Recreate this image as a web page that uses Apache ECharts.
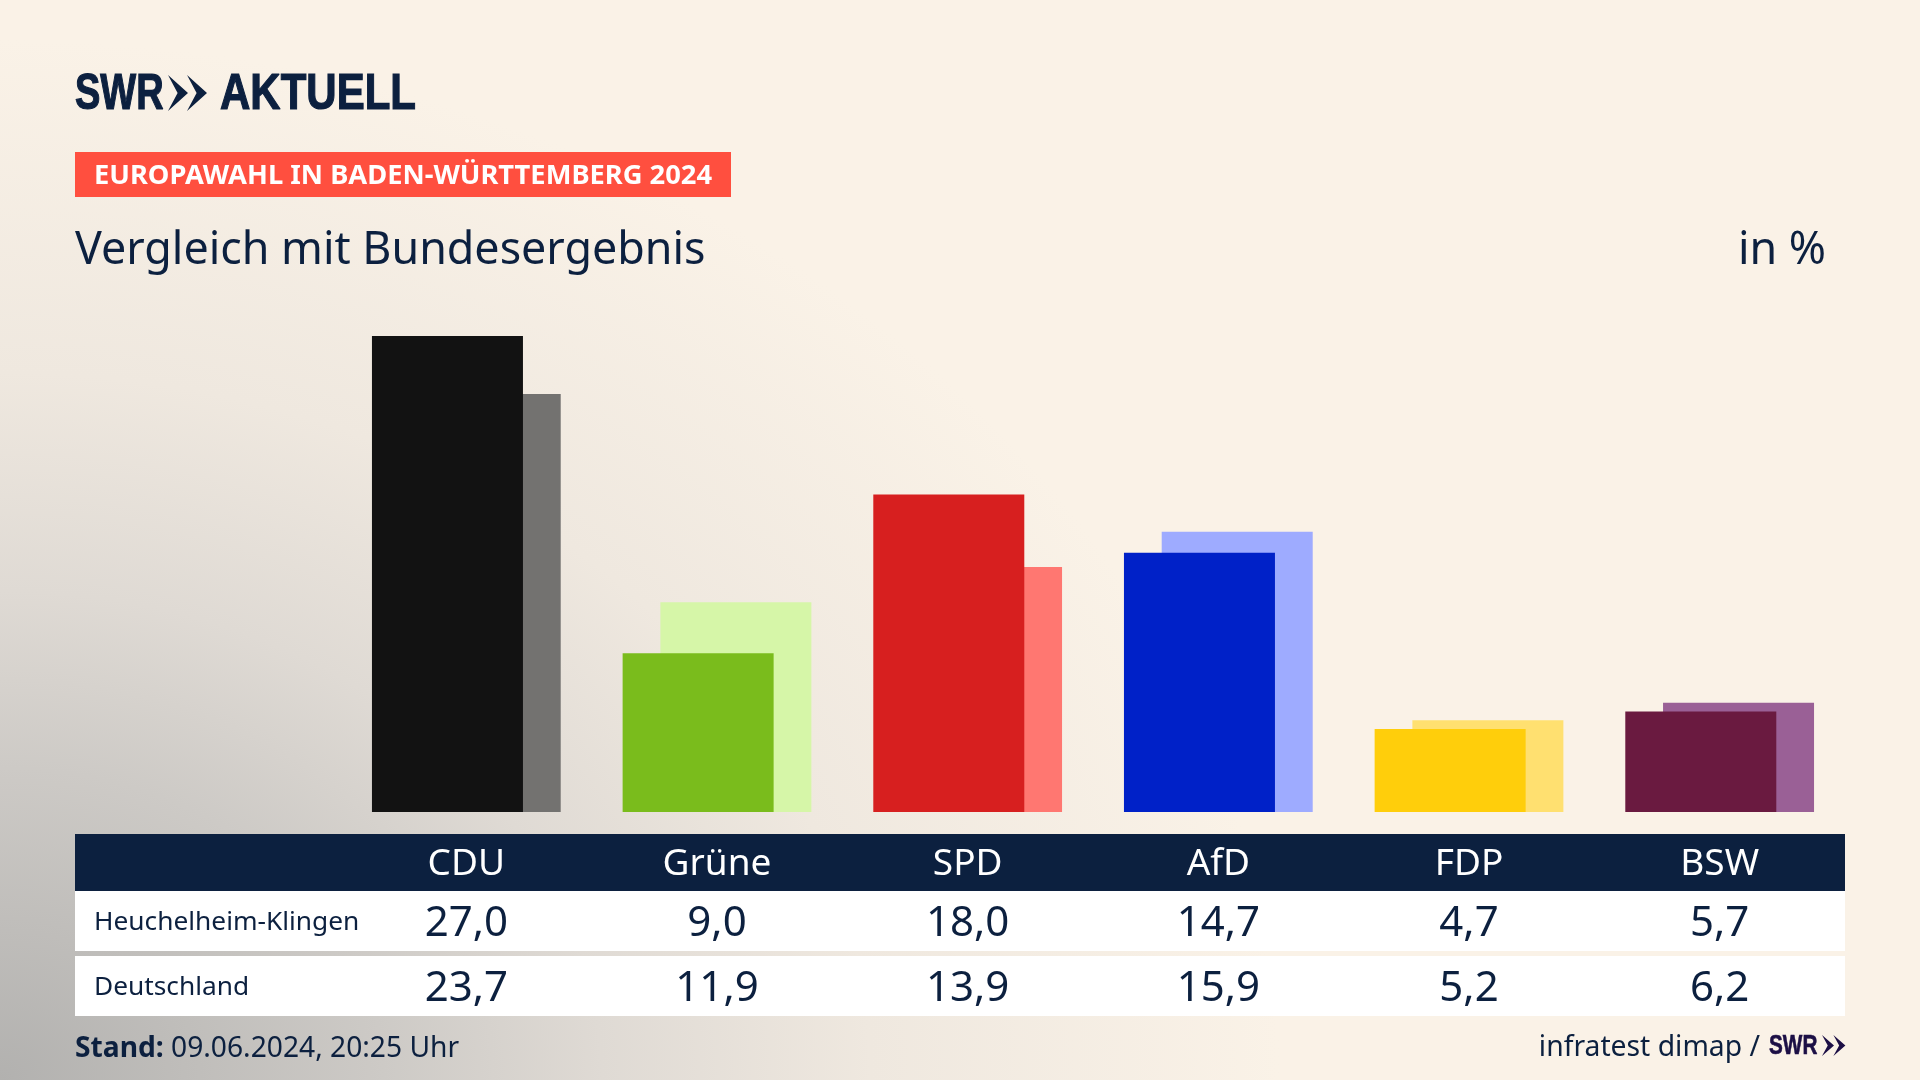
<!DOCTYPE html>
<html>
<head>
<meta charset="utf-8">
<title>Vergleich mit Bundesergebnis</title>
<script src="https://cdn.jsdelivr.net/npm/echarts@6/dist/echarts.min.js"></script>
<style>
html, body { margin: 0; padding: 0; }
body {
    width: 1920px; height: 1080px; overflow: hidden;
    background: radial-gradient(ellipse 1280px 1040px at 0 1080px, #b2b1af 0%, #cdcac6 30%, #dfdad4 47%, #efe8df 68%, #faf2e7 100%) #faf2e7;
}
#chart { width: 1920px; height: 1080px; }
</style>
</head>
<body>
<div id="chart"></div>
<script>
// Daten
var parties = ['CDU', 'Grüne', 'SPD', 'AfD', 'FDP', 'BSW'];
var heuchelheim = [27.0, 9.0, 18.0, 14.7, 4.7, 5.7];
var deutschland = [23.7, 11.9, 13.9, 15.9, 5.2, 6.2];
var rowNames = ['Heuchelheim-Klingen', 'Deutschland'];

// Farben
var darkColors = ['#121212', '#7abc1c', '#d71f1f', '#0021c8', '#ffce0b', '#6a1a40'];
var lightColors = ['#737270', '#d6f6a8', '#ff7771', '#9eabff', '#ffe070', '#9a6096'];
var navy = '#0c203f';
var font = '"Noto Sans", sans-serif';
var logoFont = '"Liberation Sans", sans-serif';

function comma(v) {
    return v.toFixed(1).replace('.', ',');
}

function barData(values, colors) {
    return values.map(function(v, i) {
        return { value: v, itemStyle: { color: colors[i] } };
    });
}

// weitere x-Achse als Tabellenzeile
function rowAxis(labels, dist, color, size) {
    return {
        type: 'category',
        position: 'bottom',
        data: labels,
        offset: dist,
        z: 10,
        axisLine: { show: false },
        axisTick: { show: false },
        axisLabel: {
            margin: 0,
            interval: 0,
            color: color,
            fontFamily: font,
            fontSize: size,
            verticalAlign: 'middle'
        }
    };
}

function label(text, x, y, size, color, extra) {
    var style = { text: text, x: x, y: y, fill: color, fontFamily: font, fontSize: size, textVerticalAlign: 'middle' };
    for (var k in extra) style[k] = extra[k];
    return { type: 'text', z: 5, style: style };
}

// Logoschrift, schmal gezogen
function logoText(text, x, y, size, sx, color, weight) {
    return {
        type: 'text', z: 5, x: x, y: y, scaleX: sx,
        style: {
            text: text, x: 0, y: 0, fill: color, stroke: color, lineWidth: weight,
            fontFamily: logoFont, fontWeight: 700, fontSize: size, textVerticalAlign: 'middle'
        }
    };
}

function box(x, y, w, h, color) {
    return { type: 'rect', z: 1, shape: { x: x, y: y, width: w, height: h }, style: { fill: color } };
}

function chevrons(x, y, h, w, color) {
    // zwei Pfeile des SWR-Logos
    var out = [];
    [0, w * 0.95].forEach(function(dx) {
        out.push({
            type: 'polygon', z: 5,
            shape: { points: [
                [x + dx, y], [x + dx + w, y + h / 2], [x + dx, y + h],
                [x + dx + w * 0.48, y + h / 2]
            ] },
            style: { fill: color }
        });
    });
    return out;
}

var chart = echarts.init(document.getElementById('chart'));

var option = {
    animation: false,
    backgroundColor: 'transparent',
    grid: { left: 341, right: 75, top: 283, bottom: 268, containLabel: false, outerBoundsMode: 'none' },
    xAxis: [
        rowAxis(parties, 52, '#ffffff', 37),
        rowAxis(heuchelheim.map(comma), 112, navy, 42),
        rowAxis(deutschland.map(comma), 177, navy, 42)
    ],
    yAxis: { type: 'value', min: 0, max: 30, show: false },
    series: [{
        name: rowNames[0],
        type: 'bar',
        z: 3,
        barWidth: 151,
        barGap: '-75%',
        data: barData(heuchelheim, darkColors)
    }, {
        name: rowNames[1],
        type: 'bar',
        z: 2,
        barWidth: 151,
        data: barData(deutschland, lightColors)
    }],
    graphic: [
        box(75, 834, 1770, 57, navy),
        box(75, 891, 1770, 60, '#ffffff'),
        box(75, 956, 1770, 60, '#ffffff'),
        box(75, 152, 656, 45, '#ff4f3f'),
        logoText('SWR', 75, 95, 50, 0.76, navy, 1.2),
        logoText('AKTUELL', 220, 95, 50, 0.84, navy, 1.2),
        label('EUROPAWAHL IN BADEN-WÜRTTEMBERG 2024', 94, 176, 27.3, '#ffffff', { fontWeight: 700 }),
        label('Vergleich mit Bundesergebnis', 75, 251, 44.8, navy),
        label('in %', 1826, 251, 44.8, navy, { textAlign: 'right' }),
        label(rowNames[0], 94, 923, 26.3, navy),
        label(rowNames[1], 94, 988, 26.3, navy),
        label('{b|Stand:} 09.06.2024, 20:25 Uhr', 75, 1049, 28.2, navy, {
            rich: { b: { fontFamily: font, fontSize: 28.2, fontWeight: 700, fill: navy } }
        }),
        label('infratest dimap /', 1760, 1048, 28.3, navy, { textAlign: 'right' }),
        logoText('SWR', 1769, 1046, 28, 0.74, '#1c0f45', 0.6)
    ].concat(chevrons(168, 75, 36, 20, navy), chevrons(1822, 1035, 21, 12, '#1c0f45'))
};

chart.setOption(option);
</script>
</body>
</html>
